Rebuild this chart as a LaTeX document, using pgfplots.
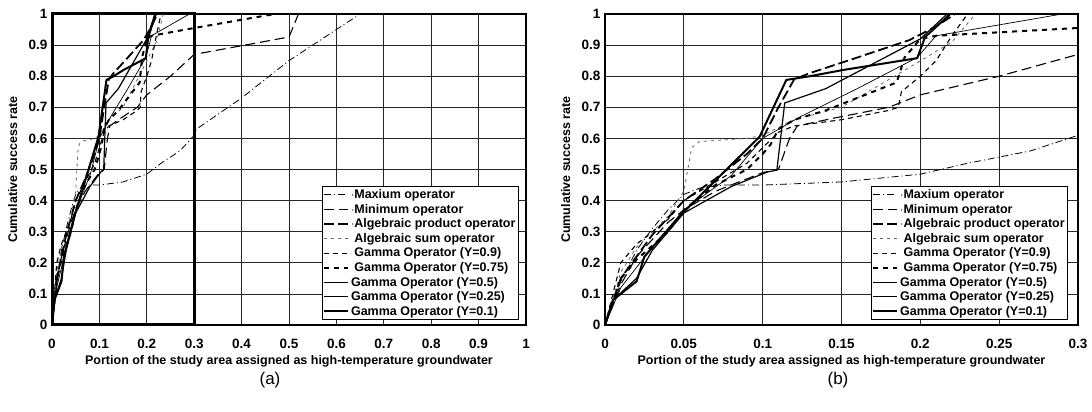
\documentclass[border=0pt]{standalone}
\usepackage{fontspec}
\setmainfont{Liberation Sans}
\usepackage{pgfplots}
\usepackage{pgfplotstable}
\pgfplotsset{compat=1.18}

% cumulative success rate vs. portion of area, one table per operator
\pgfplotstableread{
x y
0 0
0.005 0.07
0.01 0.14
0.02 0.24
0.03 0.31
0.04 0.37
0.05 0.42
0.06 0.44
0.075 0.45
0.1 0.45
0.15 0.46
0.2 0.485
0.23 0.52
0.27 0.56
0.3 0.61
0.305 0.63
0.4 0.73
0.5 0.85
0.6 0.95
0.65 1.0
}\maxop
\pgfplotstableread{
x y
0 0
0.01 0.13
0.02 0.22
0.04 0.33
0.05 0.37
0.07 0.43
0.09 0.47
0.1 0.49
0.11 0.5
0.117 0.6
0.122 0.64
0.145 0.665
0.18 0.70
0.2 0.74
0.25 0.80
0.3 0.87
0.5 0.926
0.52 1.0
}\minop
\pgfplotstableread{
x y
0 0
0.01 0.15
0.02 0.22
0.03 0.29
0.05 0.40
0.07 0.47
0.09 0.55
0.1 0.60
0.11 0.70
0.12 0.79
0.13 0.81
0.16 0.86
0.193 0.916
0.21 0.96
0.222 1.0
}\prodop
\pgfplotstableread{
x y
0 0
0.01 0.17
0.02 0.25
0.04 0.35
0.05 0.43
0.055 0.57
0.06 0.59
0.09 0.6
0.1 0.61
0.12 0.66
0.15 0.7
0.187 0.81
0.22 0.91
0.235 1.0
}\sumop
\pgfplotstableread{
x y
0 0
0.01 0.2
0.02 0.26
0.04 0.34
0.05 0.40
0.07 0.46
0.09 0.52
0.1 0.57
0.11 0.62
0.12 0.64
0.15 0.66
0.18 0.69
0.186 0.70
0.188 0.75
0.2 0.80
0.21 0.85
0.22 0.93
0.23 1.0
}\gnine
\pgfplotstableread{
x y
0 0
0.01 0.15
0.02 0.21
0.04 0.30
0.05 0.37
0.07 0.45
0.09 0.5
0.1 0.55
0.105 0.58
0.11 0.63
0.12 0.66
0.14 0.69
0.185 0.78
0.19 0.86
0.2 0.92
0.21 0.93
0.3 0.955
0.47 1.0
}\gsevenfive
\pgfplotstableread{
x y
0 0
0.01 0.12
0.03 0.25
0.05 0.37
0.08 0.48
0.1 0.6
0.124 0.67
0.16 0.76
0.198 0.86
0.21 0.93
0.29 1.0
}\gfive
\pgfplotstableread{
x y
0 0
0.005 0.08
0.02 0.15
0.03 0.24
0.05 0.36
0.08 0.445
0.103 0.492
0.109 0.498
0.114 0.714
0.14 0.76
0.2 0.92
0.217 1.0
}\gtwofive
\pgfplotstableread{
x y
0 0
0.005 0.08
0.02 0.14
0.025 0.22
0.048 0.354
0.098 0.605
0.115 0.788
0.13 0.80
0.151 0.82
0.198 0.858
0.203 0.926
0.219 1.0
}\gone

\pgfplotsset{
  panel/.style={
    scale only axis, height=311pt,
    ymin=0, ymax=1,
    ytick={0,0.1,0.2,0.3,0.4,0.5,0.6,0.7,0.8,0.9,1},
    yticklabels={0,0.1,0.2,0.3,0.4,0.5,0.6,0.7,0.8,0.9,1},
    grid=major, major grid style={black!85, line width=0.7pt},
    axis line style={line width=1.2pt},
    major tick length=0pt,
    tick label style={font=\bfseries\fontsize{13.5}{15}\selectfont},
    xticklabel shift=11pt,
    yticklabel shift=1pt,
    label style={font=\bfseries\fontsize{12.5}{14}\selectfont},
    xlabel={Portion of the study area assigned as high-temperature groundwater},
    ylabel={Cumulative success rate},
    xlabel style={at={(axis description cs:0.5,-0.118)}, anchor=center},
    ylabel style={at={(axis description cs:-0.083,0.5)}, anchor=center},
    legend cell align=left,
    legend image code/.code={\draw[#1] (0pt,0pt) -- (24pt,0pt);},
    legend style={draw=black, line width=0.8pt, fill=white,
      font=\bfseries\fontsize{12.5}{14}\selectfont, anchor=south east,
      inner sep=1pt, row sep=0pt},
  },
  maxs/.style={black, line width=0.8pt, dash pattern=on 7pt off 3pt on 1pt off 3pt},
  mins/.style={black, line width=1.1pt, dash pattern=on 10pt off 5pt},
  prods/.style={black, line width=1.8pt, dash pattern=on 10pt off 4pt},
  sums/.style={black!60, line width=0.8pt, dash pattern=on 3pt off 4pt},
  g9/.style={black, line width=1.1pt, dash pattern=on 5pt off 4pt},
  g75/.style={black, line width=2pt, dash pattern=on 5pt off 5pt},
  g5/.style={black, line width=0.7pt},
  g25/.style={black, line width=1.2pt},
  g1/.style={black, line width=2pt},
}

\begin{document}
\begin{tikzpicture}
\path (0,0) rectangle (1092pt,412pt);

\begin{axis}[panel, at={(52pt,87pt)}, anchor=south west, width=474pt,
  xmin=0, xmax=1,
  xtick={0,0.1,0.2,0.3,0.4,0.5,0.6,0.7,0.8,0.9,1},
  xticklabels={0,0.1,0.2,0.3,0.4,0.5,0.6,0.7,0.8,0.9,1},
  clip=false,
  legend style={at={(0.985,0.016)}},
]
\addplot[forget plot, line width=3pt, black] coordinates {(0,0) (0.3,0) (0.3,1) (0,1) (0,0)};
\addplot[maxs] table {\maxop};
\addlegendentry{$\cdot$Maxium operator}
\addplot[mins] table {\minop};
\addlegendentry{$\cdot$Minimum operator}
\addplot[prods] table {\prodop};
\addlegendentry{$\cdot$Algebraic product operator}
\addplot[sums] table {\sumop};
\addlegendentry{\phantom{$\cdot$}Algebraic sum operator}
\addplot[g9] table {\gnine};
\addlegendentry{\phantom{$\cdot$}Gamma Operator (Y=0.9)}
\addplot[g75] table {\gsevenfive};
\addlegendentry{\phantom{$\cdot$}Gamma Operator (Y=0.75)}
\addplot[g5] table {\gfive};
\addlegendentry{Gamma Operator (Y=0.5)}
\addplot[g25] table {\gtwofive};
\addlegendentry{Gamma Operator (Y=0.25)}
\addplot[g1] table {\gone};
\addlegendentry{Gamma Operator (Y=0.1)}
\end{axis}

\begin{axis}[panel, at={(605pt,87pt)}, anchor=south west, width=473pt,
  xmin=0, xmax=0.3,
  xtick={0,0.05,0.1,0.15,0.2,0.25,0.3},
  xticklabels={0,0.05,0.1,0.15,0.2,0.25,0.3},
  legend style={at={(0.979,0.016)}},
]
\addplot[maxs] table {\maxop};
\addlegendentry{$\cdot$Maxium operator}
\addplot[mins] table {\minop};
\addlegendentry{$\cdot$Minimum operator}
\addplot[prods] table {\prodop};
\addlegendentry{$\cdot$Algebraic product operator}
\addplot[sums] table {\sumop};
\addlegendentry{\phantom{$\cdot$}Algebraic sum operator}
\addplot[g9] table {\gnine};
\addlegendentry{\phantom{$\cdot$}Gamma Operator (Y=0.9)}
\addplot[g75] table {\gsevenfive};
\addlegendentry{\phantom{$\cdot$}Gamma Operator (Y=0.75)}
\addplot[g5] table {\gfive};
\addlegendentry{Gamma Operator (Y=0.5)}
\addplot[g25] table {\gtwofive};
\addlegendentry{Gamma Operator (Y=0.25)}
\addplot[g1] table {\gone};
\addlegendentry{Gamma Operator (Y=0.1)}
\end{axis}

\node[font=\fontsize{17}{19}\selectfont] at (270pt,32pt) {(a)};
\node[font=\fontsize{17}{19}\selectfont] at (838pt,32pt) {(b)};
\end{tikzpicture}
\end{document}
